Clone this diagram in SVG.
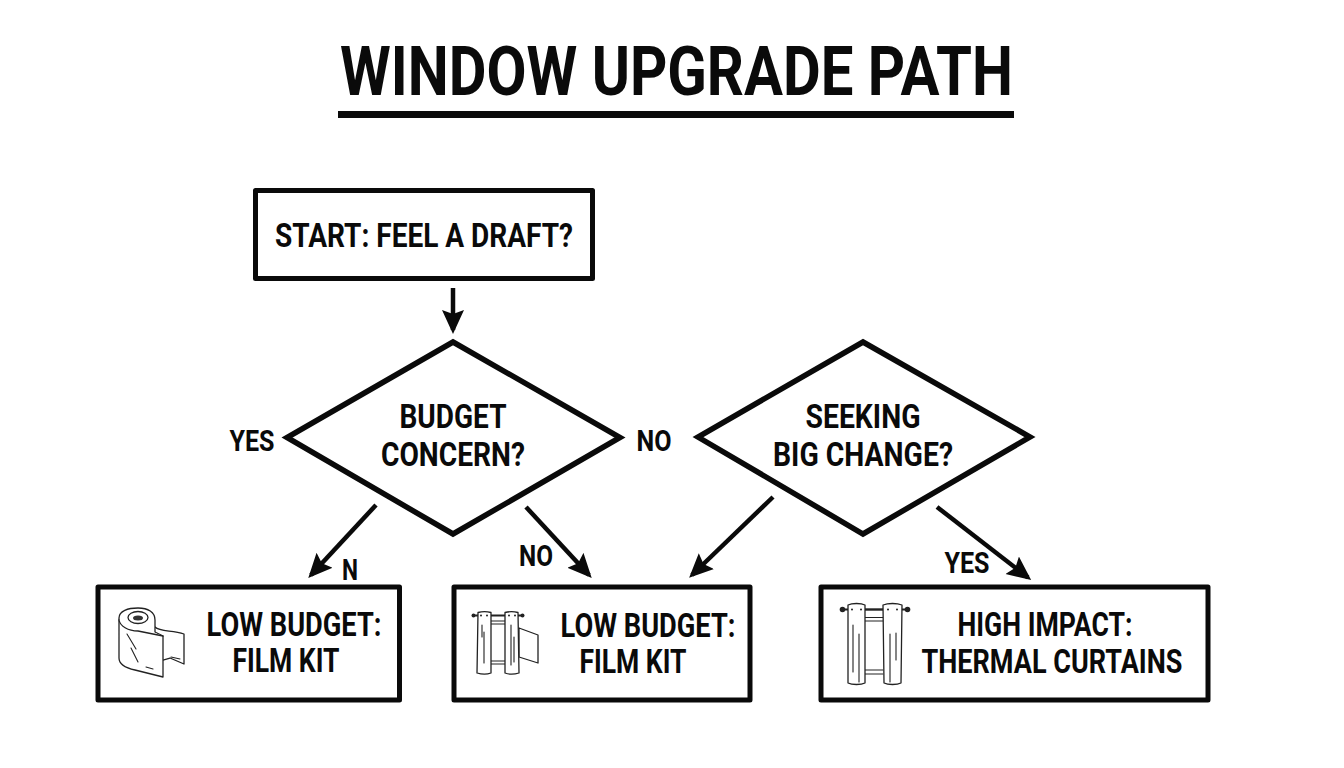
<svg xmlns="http://www.w3.org/2000/svg" width="1344" height="768" viewBox="0 0 1344 768">
<style>
text{font-family:Roboto,"Liberation Sans",sans-serif;font-weight:700;fill:#0a0a0a;text-anchor:middle}
.t{font-size:34px}
.l{font-size:30px}
.box{fill:#fff;stroke:#0a0a0a;stroke-width:5;stroke-linejoin:round}
.dia{fill:#fff;stroke:#0a0a0a;stroke-width:5.500;stroke-linejoin:miter}
.c{fill:none;stroke:#0a0a0a;stroke-width:4.500;stroke-linecap:butt}
.i{fill:#fff;stroke:#222;stroke-width:1.300;stroke-linejoin:round;stroke-linecap:round}
.in{fill:none;stroke:#222;stroke-width:1.100;stroke-linecap:round}
</style>
<defs>
<marker id="a" markerUnits="userSpaceOnUse" markerWidth="30" markerHeight="30" refX="20" refY="11" orient="auto"><path d="M0 0L24 11L0 22L4 11Z" fill="#0a0a0a"/></marker>
</defs>
<rect width="1344" height="768" fill="#fff"/>
<g id="title">
<text x="676.500" y="95" font-size="68" textLength="673" lengthAdjust="spacingAndGlyphs">WINDOW UPGRADE PATH</text>
<rect x="338" y="111" width="676" height="7" fill="#0a0a0a"/>
</g>
<g id="connectors">
<path class="c" d="M453 288L453 330" marker-end="url(#a)"/>
<path class="c" d="M376 505L311 575" marker-end="url(#a)"/>
<path class="c" d="M526 507L589 575" marker-end="url(#a)"/>
<path class="c" d="M773 497L692 575" marker-end="url(#a)"/>
<path class="c" d="M937 507L1028 577.500" marker-end="url(#a)"/>
</g>
<g id="labels">
<text class="l" x="252" y="451" textLength="45" lengthAdjust="spacingAndGlyphs">YES</text>
<text class="l" x="654" y="451" textLength="35" lengthAdjust="spacingAndGlyphs">NO</text>
<text class="l" x="350" y="580" textLength="16" lengthAdjust="spacingAndGlyphs">N</text>
<text class="l" x="536" y="566" textLength="34" lengthAdjust="spacingAndGlyphs">NO</text>
<text class="l" x="967" y="573" textLength="45" lengthAdjust="spacingAndGlyphs">YES</text>
</g>
<g id="start">
<rect class="box" x="255.500" y="190.500" width="337" height="88"/>
<text class="t" x="424" y="247" textLength="298" lengthAdjust="spacingAndGlyphs">START: FEEL A DRAFT?</text>
</g>
<g id="budget">
<path class="dia" d="M453 342L620 437.500L453 534L287 437.500Z"/>
<text class="t" x="453" y="428" textLength="107" lengthAdjust="spacingAndGlyphs">BUDGET</text>
<text class="t" x="453" y="466" textLength="144" lengthAdjust="spacingAndGlyphs">CONCERN?</text>
</g>
<g id="seeking">
<path class="dia" d="M863 342L1030 437L863 534L698 437Z"/>
<text class="t" x="863" y="428" textLength="115" lengthAdjust="spacingAndGlyphs">SEEKING</text>
<text class="t" x="863" y="466" textLength="180" lengthAdjust="spacingAndGlyphs">BIG CHANGE?</text>
</g>
<g id="film1">
<rect class="box" x="98" y="587" width="301.500" height="113"/>
<path class="i" d="M155 627C160 632 172 630 184 634L184 664L170 658L163 660"/>
<path class="i" d="M119 618C119 611 128 608 138 608C148 608 155 612 155 620L155 632L163 636L163 677L135 670C126 668 119 664 119 658Z"/>
<path class="i" d="M119 620C120 626 128 631 138 631L163 636"/>
<ellipse class="i" cx="138" cy="617.500" rx="10" ry="6"/>
<ellipse cx="138" cy="618" rx="5" ry="2.500" fill="#333"/>
<path class="in" d="M127 634L136 649M131 648L138 662M146 667L153 669M171 657L180 659"/>
<text class="t" x="294" y="636" textLength="175" lengthAdjust="spacingAndGlyphs">LOW BUDGET:</text>
<text class="t" x="286" y="672" textLength="107" lengthAdjust="spacingAndGlyphs">FILM KIT</text>
</g>
<g id="film2">
<rect class="box" x="454" y="587" width="296" height="113"/>
<path class="i" d="M519 628L538 635L538 663L519 657Z"/>
<path class="in" d="M491 621H505M491 624H505M491 661H505M491 664H505"/>
<path fill="none" stroke="#222" stroke-width="1.800" d="M473 615.500H523"/>
<path class="i" d="M478 612.500C482 611.500 487 611.500 491 612.500L491 673C487 674.500 482 674.500 477 673Z"/>
<path class="i" d="M505 612.500C509 611.500 514 611.500 518 612.500L519 673C514 674.500 509 674.500 505 673Z"/>
<circle cx="473.500" cy="615.500" r="2" fill="#222"/><circle cx="522.500" cy="615.500" r="2" fill="#222"/>
<circle cx="481" cy="615.500" r="1" fill="#222"/><circle cx="487" cy="615.500" r="1" fill="#222"/><circle cx="509" cy="615.500" r="1" fill="#222"/><circle cx="515" cy="615.500" r="1" fill="#222"/>
<path class="in" d="M482 625V637M484 632V663M511 625V665M514 637V662"/>
<text class="t" x="648" y="637" textLength="175" lengthAdjust="spacingAndGlyphs">LOW BUDGET:</text>
<text class="t" x="633" y="673" textLength="107" lengthAdjust="spacingAndGlyphs">FILM KIT</text>
</g>
<g id="curtains">
<rect class="box" x="821" y="587" width="387" height="113"/>
<path class="in" d="M865 617.500H883M865 621H883M865 670H883M865 674H883"/>
<path fill="none" stroke="#222" stroke-width="2" d="M842 609.500H908"/>
<path class="i" d="M848 605C852 603 861 603 865 605L865 683C861 685 852 685 848 683Z"/>
<path class="i" d="M883 605C888 603 897 603 902 605L901 683C897 685 888 685 884 683Z"/>
<path fill="none" stroke="#222" stroke-width="1.800" d="M865 609.500H883"/>
<circle cx="842.500" cy="609.500" r="2.800" fill="#222"/><circle cx="907.500" cy="609.500" r="2.800" fill="#222"/>
<circle cx="852" cy="609.500" r="1" fill="#222"/><circle cx="861" cy="609.500" r="1" fill="#222"/><circle cx="888" cy="609.500" r="1" fill="#222"/><circle cx="897" cy="609.500" r="1" fill="#222"/>
<path class="in" d="M853 625V672M859 634V682M890 634V682M896 633V660"/>
<text class="t" x="1045" y="636" textLength="175" lengthAdjust="spacingAndGlyphs">HIGH IMPACT:</text>
<text class="t" x="1052" y="673" textLength="261" lengthAdjust="spacingAndGlyphs">THERMAL CURTAINS</text>
</g>
</svg>
